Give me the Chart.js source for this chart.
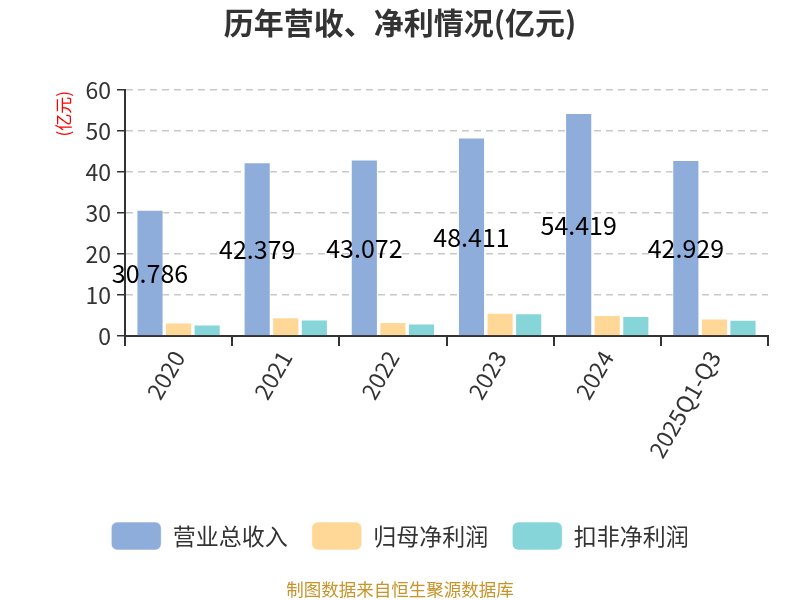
<!DOCTYPE html>
<html><head><meta charset="utf-8">
<script src="https://cdn.jsdelivr.net/npm/chart.js@4.4.1/dist/chart.umd.min.js"></script>
<style>html,body{margin:0;padding:0;background:#fff}#wrap{width:800px;height:600px}</style>
</head><body><div id="wrap"><canvas id="c"></canvas></div>
<script>
const categories = ['2020','2021','2022','2023','2024','2025Q1-Q3'];
const revenue = [30.786, 42.379, 43.072, 48.411, 54.419, 42.929];
const netProfit = [3.3, 4.6, 3.4, 5.65, 5.15, 4.25];
const netProfitDeducted = [2.8, 4.0, 3.05, 5.55, 4.9, 3.95];
const seriesNames = ['营业总收入','归母净利润','扣非净利润'];
const yTicks = [0,10,20,30,40,50,60];
const yTitle = '(亿元)';
const FONT = '"Noto Sans CJK SC","Noto Sans",sans-serif';

const labelPlugin = {
  id:'labels',
  afterDatasetsDraw(chart){
    const ctx = chart.ctx;
    const meta = chart.getDatasetMeta(0);
    ctx.save();
    ctx.font = '25px ' + FONT;
    ctx.fillStyle = '#000';
    ctx.textAlign = 'center';
    ctx.textBaseline = 'middle';
    meta.data.forEach((bar,i)=>{
      const y = (bar.y + bar.base)/2;
      ctx.fillText(revenue[i].toFixed(3), bar.x, y + 1);
    });
    ctx.restore();
  }
};
const extraTextPlugin = {
  id:'extraText',
  afterDraw(chart){
    const ctx = chart.ctx;
    ctx.save();
    ctx.font = '17.5px ' + FONT;
    ctx.fillStyle = '#C8942A';
    ctx.textAlign = 'center';
    ctx.textBaseline = 'middle';
    ctx.fillText('制图数据来自恒生聚源数据库', 400, 589);
    const ya = chart.scales.y;
    ctx.translate(64, ya.top + 1);
    ctx.rotate(-Math.PI/2);
    ctx.font = '17px ' + FONT;
    ctx.fillStyle = '#ff0000';
    ctx.textAlign = 'right';
    ctx.fillText(yTitle, 0, 0);
    ctx.restore();
  }
};

new Chart(document.getElementById('c'), {
  type:'bar',
  data:{
    labels: categories,
    datasets:[
      {label:seriesNames[0], data:revenue, backgroundColor:'#8EADDB', borderColor:'rgba(255,255,255,0.6)', borderWidth:1},
      {label:seriesNames[1], data:netProfit, backgroundColor:'#FFD898', borderColor:'rgba(255,255,255,0.6)', borderWidth:1},
      {label:seriesNames[2], data:netProfitDeducted, backgroundColor:'#86D5D8', borderColor:'rgba(255,255,255,0.6)', borderWidth:1}
    ]
  },
  options:{
    responsive:true, maintainAspectRatio:false, animation:false,
    layout:{padding:{left:32,right:32,top:0,bottom:40}},
    datasets:{bar:{categoryPercentage:0.8, barPercentage:0.95}},
    plugins:{
      title:{display:true, text:'历年营收、净利情况(亿元)', color:'#333', font:{family:FONT,size:30,weight:'bold'}, padding:{top:5,bottom:49}},
      legend:{position:'bottom', labels:{font:{family:FONT,size:23}, color:'#333', boxWidth:50, boxHeight:28, padding:24, useBorderRadius:true, borderRadius:6}},
      tooltip:{enabled:false}
    },
    scales:{
      x:{
        offset:true,
        grid:{display:true, drawOnChartArea:false, offset:true, tickLength:10, color:'#333', lineWidth:2},
        border:{display:true, color:'#333', width:2},
        ticks:{color:'#333', font:{family:FONT,size:23}, maxRotation:60, minRotation:60, padding:0},
        afterFit(s){ s.height = 162; }
      },
      y:{
        min:0, max:60,
        afterBuildTicks(s){ s.ticks = yTicks.map(v=>({value:v})); },
        grid:{color:'#c8c8c8', lineWidth:1.5, tickLength:8, tickColor:'#333', drawTicks:true},
        border:{display:true, color:'#333', width:2, dash:[7,5]},
        ticks:{color:'#333', font:{family:FONT,size:23}, padding:6},
        afterFit(s){ s.width = 93; }
      }
    }
  },
  plugins:[labelPlugin, extraTextPlugin]
});
</script></body></html>
